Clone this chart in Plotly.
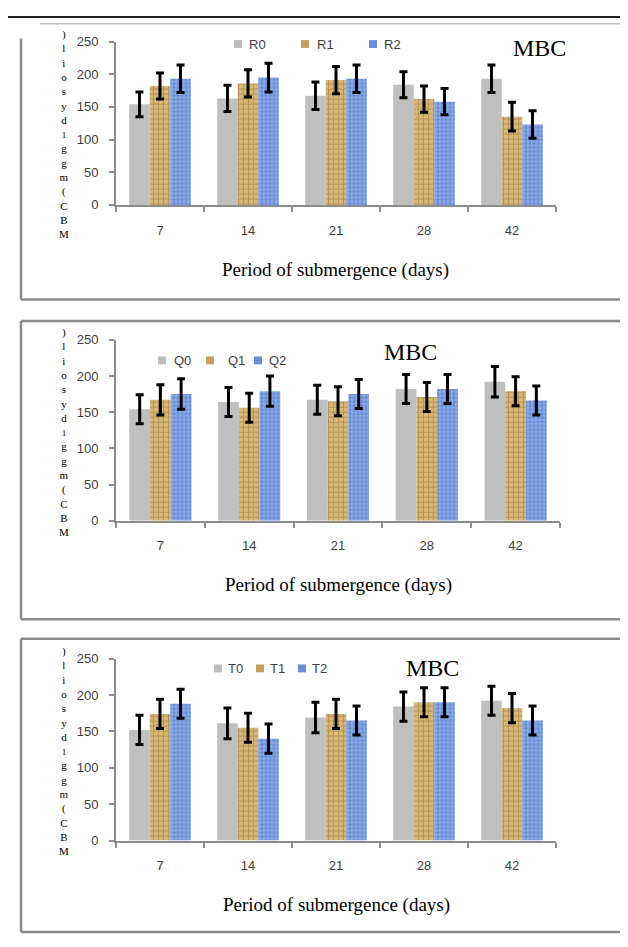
import plotly.graph_objects as go

W, H = 628, 947
OFF = 8            # the page body has an 8px margin; shift everything to compensate
FW, FH = W - OFF, H - OFF

# ---------------- data ----------------
days = ["7", "14", "21", "28", "42"]

R0 = [154, 163, 167, 184, 193]
R1 = [182, 186, 191, 162, 135]
R2 = [193, 195, 193, 158, 123]
R0_err = [19, 20, 21, 20, 21]
R1_err = [20, 21, 21, 20, 22]
R2_err = [21, 22, 21, 20, 21]

Q0 = [154, 164, 167, 182, 192]
Q1 = [167, 156, 165, 171, 179]
Q2 = [175, 179, 175, 182, 166]
Q0_err = [20, 20, 20, 20, 21]
Q1_err = [21, 20, 20, 20, 20]
Q2_err = [21, 21, 20, 20, 20]

T0 = [152, 161, 169, 184, 192]
T1 = [174, 155, 174, 190, 182]
T2 = [188, 140, 165, 190, 165]
T0_err = [20, 21, 21, 20, 20]
T1_err = [20, 20, 20, 20, 20]
T2_err = [20, 20, 20, 20, 20]

y_ticks = [0, 50, 100, 150, 200, 250]
x_title = "Period of submergence (days)"
chart_label = "MBC"
ylabel_chars = [")", "l", "i", "o", "s", "y", "d", "1", "g", "g", "m", "(", "C", "B", "M"]


# ---------------- layout helpers ----------------
def px(x):
    return (x - OFF) / FW


def py(y):
    return 1 - (y - OFF) / FH


panels = [
    dict(names=["R0", "R1", "R2"], vals=[R0, R1, R2], errs=[R0_err, R1_err, R2_err],
         x0=116, x1=556, ytop=35, ybot=201,
         sw=[238, 305, 373], tx=[247, 315, 382], ly=37.5,
         mbc=(539, 42), title=(335, 267),
         ftop=None, fleft_top=32, fbot=297),
    dict(names=["Q0", "Q1", "Q2"], vals=[Q0, Q1, Q2], errs=[Q0_err, Q1_err, Q2_err],
         x0=116, x1=560, ytop=338, ybot=522,
         sw=[162, 210, 258], tx=[172, 226, 267], ly=359,
         mbc=(410, 350), title=(338, 587),
         ftop=319, fleft_top=319, fbot=622),
    dict(names=["T0", "T1", "T2"], vals=[T0, T1, T2], errs=[T0_err, T1_err, T2_err],
         x0=116, x1=556, ytop=662, ybot=847,
         sw=[218, 260, 302], tx=[226, 268, 310], ly=672,
         mbc=(433, 672), title=(336, 912),
         ftop=642, fleft_top=642, fbot=940),
]

styles = [
    dict(color="#bfbfbf", pattern=None, swatch="#bdbdbd"),
    dict(color="#d8b878", pattern=dict(shape="+", fgcolor="#8f6d31", bgcolor="#d8b878",
                                       size=5, solidity=0.35), swatch="#c4a060"),
    dict(color="#8aabea", pattern=dict(shape=".", fgcolor="#3d63b0", bgcolor="#8aabea",
                                       size=4, solidity=0.45), swatch="#6a8fd6"),
]


def stacked_label(chars):
    parts = []
    for c in chars:
        if c == "1":
            parts.append('<span style="font-size:9px">%s</span>' % c)
        else:
            parts.append(c)
    return "<br>".join(parts)


fig = go.Figure()
shapes = []
annotations = []
layout_axes = {}

frame_col = "#8a8a8a"
axis_col = "#8c8c8c"
tick_font = dict(family="Liberation Sans", size=13, color="#404040")
serif = "Liberation Serif"

for i, p in enumerate(panels):
    n = "" if i == 0 else str(i + 1)
    xa, ya = "x" + n, "y" + n
    for j in range(3):
        st = styles[j]
        marker = dict(color=st["color"], line=dict(width=0))
        if st["pattern"] is not None:
            marker["pattern"] = st["pattern"]
        fig.add_trace(go.Bar(
            x=days, y=p["vals"][j], name=p["names"][j],
            marker=marker, xaxis=xa, yaxis=ya, showlegend=False,
            error_y=dict(type="data", array=p["errs"][j], visible=True,
                         color="black", thickness=3, width=4),
        ))
    layout_axes["xaxis" + n] = dict(
        domain=[px(p["x0"]), px(p["x1"])], anchor=ya, type="category",
        showline=True, linecolor=axis_col, linewidth=2,
        ticks="outside", tickson="boundaries", ticklen=5, tickwidth=1.5,
        tickcolor=axis_col, tickfont=tick_font, ticklabelstandoff=12,
        showgrid=False, zeroline=False, fixedrange=True,
    )
    layout_axes["yaxis" + n] = dict(
        domain=[py(p["ybot"]), py(p["ytop"])], anchor=xa, range=[0, 250],
        tickvals=y_ticks, showline=True, linecolor=axis_col, linewidth=2,
        ticks="outside", ticklen=5, tickwidth=1.5, tickcolor=axis_col,
        tickfont=tick_font, ticklabelstandoff=8,
        showgrid=False, zeroline=False, fixedrange=True,
    )

    # legend (manual)
    for j in range(3):
        cx = p["sw"][j]
        shapes.append(dict(type="rect", xref="paper", yref="paper",
                           x0=px(cx - 4), x1=px(cx + 4),
                           y0=py(p["ly"] + 4), y1=py(p["ly"] - 4),
                           fillcolor=styles[j]["swatch"], line=dict(width=0)))
        annotations.append(dict(text=p["names"][j], x=px(p["tx"][j]), y=py(p["ly"]),
                                xref="paper", yref="paper", xanchor="left", yanchor="middle",
                                showarrow=False,
                                font=dict(family="Liberation Sans", size=13, color="#404040")))
    # MBC label
    annotations.append(dict(text=chart_label, x=px(p["mbc"][0]), y=py(p["mbc"][1]),
                            xref="paper", yref="paper", xanchor="center", yanchor="middle",
                            showarrow=False, font=dict(family=serif, size=24, color="black")))
    # x title
    annotations.append(dict(text=x_title, x=px(p["title"][0]), y=py(p["title"][1]),
                            xref="paper", yref="paper", xanchor="center", yanchor="middle",
                            showarrow=False, font=dict(family=serif, size=19, color="black")))
    # stacked y label (one text block)
    annotations.append(dict(text=stacked_label(ylabel_chars), x=px(64), y=py(p["ytop"] + 94),
                            xref="paper", yref="paper", xanchor="center", yanchor="middle",
                            showarrow=False, align="center",
                            font=dict(family=serif, size=11, color="black")))
    # frame
    shapes.append(dict(type="line", xref="paper", yref="paper",
                       x0=px(21), x1=px(628), y0=py(p["fbot"]), y1=py(p["fbot"]),
                       line=dict(color=frame_col, width=2.5)))
    shapes.append(dict(type="line", xref="paper", yref="paper",
                       x0=px(21), x1=px(21), y0=py(p["fleft_top"]), y1=py(p["fbot"]),
                       line=dict(color=frame_col, width=2.5)))
    if p["ftop"] is not None:
        shapes.append(dict(type="line", xref="paper", yref="paper",
                           x0=px(21), x1=px(628), y0=py(p["ftop"]), y1=py(p["ftop"]),
                           line=dict(color=frame_col, width=2.5)))

# page rules at the top
shapes.append(dict(type="line", xref="paper", yref="paper", x0=px(8), x1=px(628),
                   y0=py(10), y1=py(10), line=dict(color="#222222", width=2)))
shapes.append(dict(type="line", xref="paper", yref="paper", x0=px(40), x1=px(628),
                   y0=py(17), y1=py(17), line=dict(color="#a0a0a0", width=1)))

fig.update_layout(
    width=FW, height=FH, margin=dict(l=0, r=0, t=0, b=0),
    paper_bgcolor="white", plot_bgcolor="white",
    barmode="group", bargap=0.3, bargroupgap=0,
    showlegend=False, shapes=shapes, annotations=annotations,
    **layout_axes,
)

fig.write_html("out.html")
